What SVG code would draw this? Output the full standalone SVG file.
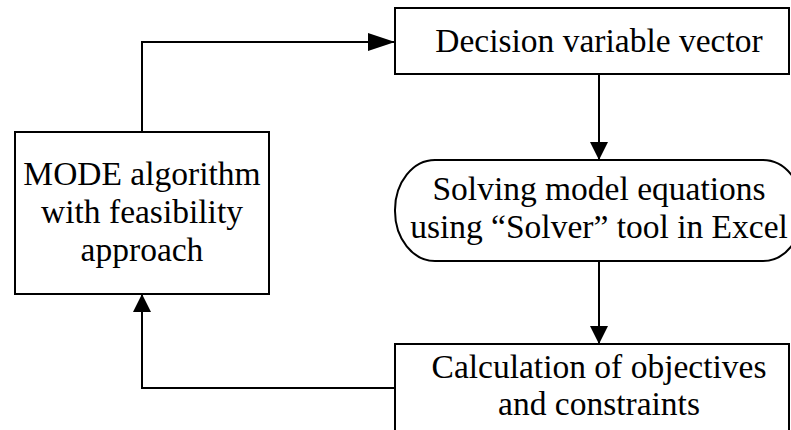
<svg xmlns="http://www.w3.org/2000/svg" width="791" height="430" viewBox="0 0 791 430">
  <style>
    .box { fill: #ffffff; stroke: #000000; stroke-width: 2; }
    .wire { fill: none; stroke: #000000; stroke-width: 2; }
    .lbl { font-family: "Liberation Serif", "Times New Roman", serif; font-size: 33.5px; fill: #000000; text-anchor: middle; }
  </style>
  <defs>
    <!-- horizontal runs get a longer head, vertical runs a shorter one -->
    <marker id="arrow-h" markerWidth="27" markerHeight="18" refX="27" refY="9" orient="auto" markerUnits="userSpaceOnUse">
      <path d="M0,0 L27,9 L0,18 Z" fill="#000000"/>
    </marker>
    <marker id="arrow-v" markerWidth="18" markerHeight="18" refX="18" refY="9" orient="auto" markerUnits="userSpaceOnUse">
      <path d="M0,0 L18,9 L0,18 Z" fill="#000000"/>
    </marker>
  </defs>

  <g id="connectors">
    <!-- MODE box up and over into the decision vector -->
    <polyline class="wire" points="142,132 142,42 395,42" marker-end="url(#arrow-h)"/>
    <!-- decision vector down to solver -->
    <line class="wire" x1="599" y1="74" x2="599" y2="160" marker-end="url(#arrow-v)"/>
    <!-- solver down to objectives -->
    <line class="wire" x1="599" y1="261" x2="599" y2="344" marker-end="url(#arrow-v)"/>
    <!-- objectives back to MODE box -->
    <polyline class="wire" points="395,388 142,388 142,294" marker-end="url(#arrow-v)"/>
  </g>

  <g id="node-decision">
    <rect class="box" x="395" y="8" width="394" height="66"/>
    <text class="lbl" x="599" y="52">Decision variable vector</text>
  </g>

  <g id="node-solver">
    <rect class="box" x="395" y="160" width="408" height="101" rx="40" ry="50"/>
    <text class="lbl" x="599" y="200">Solving model equations</text>
    <text class="lbl" x="599" y="238">using “Solver” tool in Excel</text>
  </g>

  <g id="node-objectives">
    <rect class="box" x="395" y="344" width="394" height="100"/>
    <text class="lbl" x="599" y="378">Calculation of objectives</text>
    <text class="lbl" x="599" y="415">and constraints</text>
  </g>

  <g id="node-mode">
    <rect class="box" x="15" y="132" width="254" height="162"/>
    <text class="lbl" x="142" y="185">MODE algorithm</text>
    <text class="lbl" x="142" y="223">with feasibility</text>
    <text class="lbl" x="142" y="261">approach</text>
  </g>
</svg>
